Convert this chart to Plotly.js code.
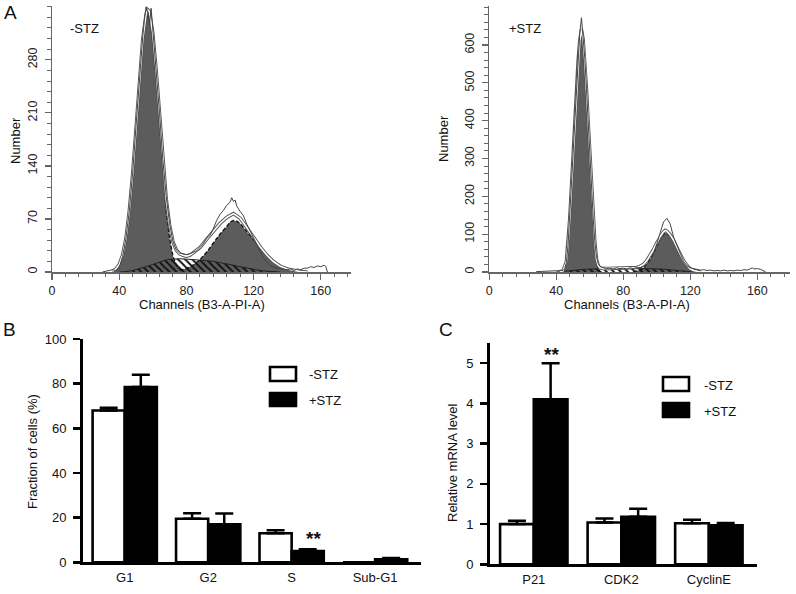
<!DOCTYPE html>
<html>
<head>
<meta charset="utf-8">
<script src="https://cdn.plot.ly/plotly-3.0.1.min.js"></script>
<style>html,body{margin:0;padding:0;background:#fff;}#chart{width:796px;height:594px;}</style>
</head>
<body>
<div id="chart"></div>
<script>
// ---------- Panel A data (channel, count) ----------
const channelTicks = [0, 40, 80, 120, 160];
const countTicksMinus = [0, 70, 140, 210, 280];
const countTicksPlus = [0, 100, 200, 300, 400, 500, 600];
const groupNames = ['-STZ', '+STZ'];

// -STZ
const rawMinus = [[30,0],[32,1],[34,1],[36,3],[38,2],[40,6],[42,20],[44,44],[46,80],[48,130],[50,192],[52,256],[54,310],[55,332],[56,350],[57,343],[58,326],[59,348],[60,322],[62,272],[64,210],[66,148],[68,100],[70,64],[72,40],[74,29],[76,25],[78,24],[80,23],[82,24],[84,26],[86,28],[88,32],[90,37],[92,44],[94,48],[96,57],[98,68],[100,76],[102,81],[104,88],[106,92],[107,98],[108,93],[109,95],[110,87],[112,80],[114,74],[116,63],[118,54],[120,46],[122,36],[124,28],[126,18],[128,13],[130,8],[132,6],[134,5],[136,5],[138,4],[140,3],[142,4],[144,2],[146,4],[148,3],[150,5],[152,5],[154,7],[156,6],[158,8],[160,7],[162,9],[163,7],[164,0]];
const sumMinus = [[36,1],[38,4],[40,10],[42,22],[44,44],[46,80],[48,129],[50,191],[52,254],[54,307],[56,340],[57,346],[58,344],[60,315],[62,266],[64,205],[66,144],[68,96],[70,62],[72,40],[74,29],[76,24],[78,22],[80,21],[82,22],[84,25],[86,28],[88,32],[92,43],[96,53],[100,64],[104,72],[108,77],[112,71],[116,59],[120,46],[124,33],[128,22],[132,13.5],[136,7.5],[140,4],[144,2],[148,0.5],[152,0]];
const g1Minus = [[36,1],[38,4],[40,10],[42,22],[44,44],[46,79],[48,127],[50,188],[52,250],[54,302],[56,333],[57,338],[58,335],[60,304],[62,253],[64,191],[66,129],[68,80],[70,44],[72,21],[74,9],[76,4],[78,1.5],[80,0]];
const sMinus = [[40,0],[44,0.5],[48,2],[52,4],[56,7],[60,10],[64,13.5],[68,16],[72,17],[76,17.5],[80,17],[84,16.5],[88,16],[92,15],[96,14],[100,12.5],[104,11],[108,9],[112,7],[116,5],[120,3.5],[124,2],[128,1],[132,0.5],[136,0]];
const g2Minus = [[76,2],[80,4.5],[84,9],[88,16],[92,26],[96,38],[100,50],[104,60],[106,66],[108,68],[110,67],[112,64],[116,53],[120,42],[124,31],[128,21],[132,13],[136,7.5],[140,4],[144,2],[148,0.5],[152,0]];

// +STZ
const rawPlus = [[28,1],[32,2],[36,3],[40,4],[42,5],[44,4],[45,9],[46,25],[47,70],[48,140],[49,220],[50,310],[51,395],[52,485],[53,565],[54,630],[55,672],[55.5,650],[56,625],[57,565],[58,485],[59,395],[60,315],[61,225],[62,145],[63,80],[64,40],[65,22],[66,15],[68,11],[70,9],[72,10],[74,8],[76,11],[78,9],[80,10],[82,8],[84,11],[86,9],[88,12],[90,11],[92,14],[94,20],[96,29],[98,48],[100,75],[102,105],[104,132],[106,142],[107,136],[108,127],[110,92],[112,70],[114,45],[116,28],[118,16],[120,11],[122,9],[124,7],[126,5],[128,6],[130,4],[132,5],[134,3],[136,4],[138,3],[140,5],[142,3],[144,4],[146,3],[148,5],[150,4],[152,6],[154,5],[156,9],[157,11],[158,8],[160,9],[162,7],[164,2],[165,0]];
const sumPlus = [[42,1],[44,3],[46,27],[47,72],[48,140],[49,221],[50,309],[51,392],[52,478],[53,557],[54,612],[55,640],[56,615],[57,560],[58,484],[59,396],[60,313],[61,226],[62,146],[63,78],[64,33],[65,17],[66,11],[68,9],[72,9.5],[80,10],[86,10],[88,12],[90,15],[92,20],[94,30],[96,43],[98,59],[100,77],[102,94],[104,106],[105,110],[106,108],[108,98],[110,84],[112,65],[114,46],[116,29],[118,17],[120,8],[122,4],[124,1.5],[126,0]];
const g1Plus = [[43,0],[44,2],[45,8],[46,25],[47,68],[48,136],[49,216],[50,303],[51,386],[52,472],[53,550],[54,605],[55,632],[56,608],[57,552],[58,476],[59,388],[60,305],[61,218],[62,138],[63,70],[64,25],[65,8],[66,2],[67,0]];
const sPlus = [[40,0],[44,1],[48,3],[52,5],[56,7],[60,8],[66,9],[72,9.5],[80,10],[88,10],[96,9.5],[102,8],[106,6.5],[110,4.5],[114,2.5],[118,1],[122,0]];
const g2Plus = [[86,0],[88,2],[90,5],[92,10],[94,20],[96,33],[98,50],[100,68],[102,86],[104,99],[105,103],[106,102],[108,94],[110,80],[112,62],[114,44],[116,28],[118,16],[120,8],[122,4],[124,1.5],[126,0]];

// ---------- Panel B data ----------
const phases = ['G1', 'G2', 'S', 'Sub-G1'];
const fracMinus = [68, 19.5, 13, 0];
const fracMinusErr = [1.2, 2.5, 1.3, 0];
const fracPlus = [78.5, 17, 5, 1.3];
const fracPlusErr = [5.5, 4.8, 0.8, 0.6];

// ---------- Panel C data ----------
const genes = ['P21', 'CDK2', 'CyclinE'];
const mrnaMinus = [1.0, 1.04, 1.02];
const mrnaMinusErr = [0.08, 0.1, 0.09];
const mrnaPlus = [4.1, 1.18, 0.97];
const mrnaPlusErr = [0.9, 0.2, 0.06];

// ---------- helpers ----------
const W = 796, H = 594;
const X = p => p / W;
const Y = p => 1 - p / H;
const xs = a => a.map(d => d[0]);
const ys = a => a.map(d => d[1]);
const FONT = '"Liberation Sans", Arial, sans-serif';
const GRAY = '#5c5c5c';
const AX = '#666';

function histTraces(raw, sum, g1, s, g2, xa, ya) {
  return [
    {x: xs(g1), y: ys(g1), xaxis: xa, yaxis: ya, type: 'scatter', mode: 'lines', fill: 'tozeroy',
     fillcolor: GRAY, line: {color: '#111', width: 1.3, dash: '4px,2px'}, hoverinfo: 'skip'},
    {x: xs(g2), y: ys(g2), xaxis: xa, yaxis: ya, type: 'scatter', mode: 'lines', fill: 'tozeroy',
     fillcolor: GRAY, line: {color: '#111', width: 1.3, dash: '4px,2px'}, hoverinfo: 'skip'},
    {x: xs(s), y: ys(s), xaxis: xa, yaxis: ya, type: 'scatter', mode: 'lines', fill: 'tozeroy',
     fillcolor: 'rgba(0,0,0,0)',
     fillpattern: {shape: '\\', fgcolor: '#111', bgcolor: 'rgba(0,0,0,0)', size: 5, solidity: 0.4},
     line: {color: '#222', width: 1}, hoverinfo: 'skip'},
    {x: xs(sum), y: ys(sum), xaxis: xa, yaxis: ya, type: 'scatter', mode: 'lines',
     line: {color: '#555', width: 3.5}, hoverinfo: 'skip'},
    {x: xs(sum), y: ys(sum), xaxis: xa, yaxis: ya, type: 'scatter', mode: 'lines',
     line: {color: '#fff', width: 1.6}, hoverinfo: 'skip'},
    {x: xs(raw), y: ys(raw), xaxis: xa, yaxis: ya, type: 'scatter', mode: 'lines',
     line: {color: '#444', width: 1}, hoverinfo: 'skip'}
  ];
}

function barTraces(cats, vm, em, vp, ep, xa, ya) {
  const common = {type: 'bar', xaxis: xa, yaxis: ya, hoverinfo: 'skip'};
  return [
    Object.assign({}, common, {x: cats, y: vm, name: groupNames[0],
      marker: {color: '#fff', line: {color: '#000', width: 2.6}},
      error_y: {type: 'data', symmetric: false, array: em, arrayminus: em.map(() => 0),
                color: '#000', thickness: 2.5, width: 9}}),
    Object.assign({}, common, {x: cats, y: vp, name: groupNames[1],
      marker: {color: '#000', line: {color: '#000', width: 2.6}},
      error_y: {type: 'data', symmetric: false, array: ep, arrayminus: ep.map(() => 0),
                color: '#000', thickness: 2.5, width: 9}})
  ];
}

const data = [].concat(
  histTraces(rawMinus, sumMinus, g1Minus, sMinus, g2Minus, 'x', 'y'),
  histTraces(rawPlus, sumPlus, g1Plus, sPlus, g2Plus, 'x2', 'y2'),
  barTraces(phases, fracMinus, fracMinusErr, fracPlus, fracPlusErr, 'x3', 'y3'),
  barTraces(genes, mrnaMinus, mrnaMinusErr, mrnaPlus, mrnaPlusErr, 'x4', 'y4')
);

const histX = {showline: true, linecolor: AX, linewidth: 1.5, ticks: 'outside', ticklen: 6, tickwidth: 1.2,
  tickcolor: AX, showgrid: false, zeroline: false, tickvals: channelTicks,
  tickfont: {size: 12.5, color: '#222'},
  minor: {ticks: 'outside', ticklen: 3.5, tickwidth: 1, tickcolor: AX, dtick: 8, tick0: 0, showgrid: false}};
const histY = {showline: true, linecolor: AX, linewidth: 1.5, ticks: 'outside', ticklen: 6, tickwidth: 1.2,
  tickcolor: AX, showgrid: false, zeroline: false, tickangle: -90,
  tickfont: {size: 12.5, color: '#222'}, ticklabelstandoff: 3};
const barY = {showline: true, linecolor: '#000', linewidth: 3, ticks: 'outside', ticklen: 7, tickwidth: 2.5,
  tickcolor: '#000', showgrid: false, zeroline: false, tickfont: {size: 13, color: '#111'}, ticklabelstandoff: 4};
const barX = {showline: true, linecolor: '#000', linewidth: 3, ticks: '', showgrid: false, zeroline: false,
  type: 'category', tickfont: {size: 13, color: '#111'}, ticklabelstandoff: 1};

function txt(text, x, y, opts) {
  return Object.assign({text: text, x: X(x), y: Y(y), xref: 'paper', yref: 'paper', showarrow: false,
    xanchor: 'center', yanchor: 'middle', font: {size: 13, color: '#111', family: FONT}}, opts || {});
}

const annotations = [
  txt('A', 10, 13, {font: {size: 19, color: '#111', family: FONT}}),
  txt('B', 9, 329, {font: {size: 19, color: '#111', family: FONT}}),
  txt('C', 446, 329, {font: {size: 19, color: '#111', family: FONT}}),
  txt(groupNames[0], 68, 28, {xanchor: 'left'}),
  txt(groupNames[1], 507, 28, {xanchor: 'left'}),
  txt('Number', 15, 140, {textangle: -90}),
  txt('Number', 443, 139, {textangle: -90}),
  txt('Channels (B3-A-PI-A)', 202, 304),
  txt('Channels (B3-A-PI-A)', 627, 304),
  txt('Fraction of cells (%)', 32, 452, {textangle: -90}),
  txt('Relative mRNA level', 453, 463, {textangle: -90}),
  txt(groupNames[0], 307, 374, {xanchor: 'left'}),
  txt(groupNames[1], 307, 400, {xanchor: 'left'}),
  txt(groupNames[0], 702, 385, {xanchor: 'left'}),
  txt(groupNames[1], 702, 411, {xanchor: 'left'}),
  {text: '**', xref: 'x3', yref: 'y3', x: 2.26, y: fracPlus[2] + fracPlusErr[2], showarrow: false,
   yanchor: 'bottom', yshift: -2, font: {size: 19, color: '#111', family: FONT, weight: 'bold'}},
  {text: '**', xref: 'x4', yref: 'y4', x: 0.2, y: mrnaPlus[0] + mrnaPlusErr[0], showarrow: false,
   yanchor: 'bottom', yshift: -4, font: {size: 19, color: '#111', family: FONT, weight: 'bold'}}
];

function box(x0, x1, y0, y1, fill) {
  return {type: 'rect', xref: 'paper', yref: 'paper', x0: X(x0), x1: X(x1), y0: Y(y1), y1: Y(y0),
    fillcolor: fill, line: {color: '#000', width: 2.6}};
}
const shapes = [
  box(270, 296, 367, 381, '#fff'),
  box(270, 296, 393, 406, '#000'),
  box(663, 689, 377, 391, '#fff'),
  box(663, 689, 403, 417, '#000')
];

const layout = {
  width: W, height: H, margin: {l: 0, r: 0, t: 0, b: 0},
  paper_bgcolor: '#fff', plot_bgcolor: 'rgba(0,0,0,0)',
  showlegend: false, barmode: 'group', bargap: 0.23, bargroupgap: 0,
  font: {family: FONT, color: '#111', size: 13},
  xaxis: Object.assign({}, histX, {domain: [X(52), X(351)], range: [0, 178], anchor: 'y'}),
  yaxis: Object.assign({}, histY, {domain: [Y(272), Y(6)], range: [0, 351], anchor: 'x',
    tickvals: countTicksMinus,
    minor: {ticks: 'outside', ticklen: 3.5, tickwidth: 1, tickcolor: AX, dtick: 14, tick0: 0, showgrid: false}}),
  xaxis2: Object.assign({}, histX, {domain: [X(489.3), X(790)], range: [0, 179.5], anchor: 'y2'}),
  yaxis2: Object.assign({}, histY, {domain: [Y(272), Y(6)], range: [0, 703], anchor: 'x2',
    tickvals: countTicksPlus,
    minor: {ticks: 'outside', ticklen: 3.5, tickwidth: 1, tickcolor: AX, dtick: 20, tick0: 0, showgrid: false}}),
  xaxis3: Object.assign({}, barX, {domain: [X(83), X(421)], range: [-0.5, 3.55], anchor: 'y3'}),
  yaxis3: Object.assign({}, barY, {domain: [Y(562.3), Y(339)], range: [0, 100], dtick: 20, anchor: 'x3'}),
  xaxis4: Object.assign({}, barX, {domain: [X(490), X(757)], range: [-0.5, 2.55], anchor: 'y4'}),
  yaxis4: Object.assign({}, barY, {domain: [Y(564.3), Y(342.7)], range: [0, 5.51], dtick: 1, anchor: 'x4'}),
  annotations: annotations,
  shapes: shapes
};

Plotly.newPlot('chart', data, layout, {staticPlot: true, displayModeBar: false});
</script>
</body>
</html>
